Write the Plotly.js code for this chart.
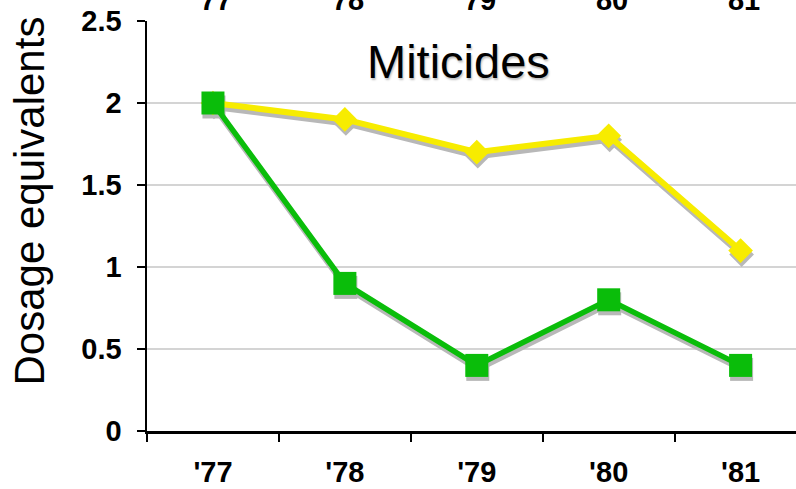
<!DOCTYPE html>
<html>
<head>
<meta charset="utf-8">
<script src="https://cdn.plot.ly/plotly-3.0.1.min.js"></script>
<style>
  html, body { margin: 0; padding: 0; background: #fff; }
  #chart { width: 796px; height: 489px; }
</style>
</head>
<body>
<div id="chart"></div>
<script>
// Season labels
const years = ["'77", "'78", "'79", "'80", "'81"];
// Dosage equivalents per season
const yellowSeries = [2.0, 1.9, 1.7, 1.8, 1.1];
const greenSeries = [2.0, 0.9, 0.4, 0.8, 0.4];
const yTicks = [0, 0.5, 1, 1.5, 2, 2.5];
const yTickText = ['0', '0.5', '1', '1.5', '2', '2.5'];

const FONT = 'Liberation Sans, Arial, sans-serif';
const YELLOW = '#F7EC00';
const GREEN = '#0ABD0A';
const SHADOW = '#b8b8b8';

// Plot geometry (px) used to nudge the shadow axes by a few pixels
const PLOT_W = 649, PLOT_H = 410;
const X_RANGE = [-0.5, 4.42];
const Y_RANGE = [0, 2.5];
const SHADOW_DX = 1, SHADOW_DY = 4;
const xPerPx = (X_RANGE[1] - X_RANGE[0]) / PLOT_W;
const yPerPx = (Y_RANGE[1] - Y_RANGE[0]) / PLOT_H;

function series(y, color, symbol, size, width, axes) {
  return {
    x: years, y: y, type: 'scatter', mode: 'lines+markers',
    xaxis: axes[0], yaxis: axes[1],
    line: { color: color, width: width },
    marker: { symbol: symbol, size: size, color: color },
    hoverinfo: 'skip'
  };
}

const traces = [
  // shadows on the hidden, slightly offset base axes
  series(yellowSeries, SHADOW, 'diamond', 19, 6, ['x', 'y']),
  series(greenSeries, SHADOW, 'square', 23, 5.5, ['x', 'y']),
  // visible series on the labelled axes
  series(yellowSeries, YELLOW, 'diamond', 19, 6, ['x2', 'y2']),
  series(greenSeries, GREEN, 'square', 23, 5.5, ['x2', 'y2'])
];

// Repeated season labels along the top edge
const topLabels = years.map(y => ({
  x: y, xref: 'x2', y: 1, yref: 'paper',
  yanchor: 'bottom', xanchor: 'center', yshift: 3,
  text: '<b>' + y + '</b>', showarrow: false,
  font: { family: FONT, size: 29, color: '#000' }
}));

const tickFont = { family: FONT, size: 29, color: '#000', weight: 'bold' };

const layout = {
  width: 796, height: 489,
  margin: { l: 147, r: 0, t: 21, b: 58 },
  paper_bgcolor: '#fff', plot_bgcolor: '#fff',
  showlegend: false,
  xaxis: {
    type: 'category', visible: false,
    range: [X_RANGE[0] - SHADOW_DX * xPerPx, X_RANGE[1] - SHADOW_DX * xPerPx]
  },
  yaxis: {
    visible: false,
    range: [Y_RANGE[0] + SHADOW_DY * yPerPx, Y_RANGE[1] + SHADOW_DY * yPerPx]
  },
  xaxis2: {
    type: 'category', range: X_RANGE, overlaying: 'x', anchor: 'y2', side: 'bottom',
    tickson: 'boundaries', ticks: 'outside', ticklen: 8, tickwidth: 2, tickcolor: '#000',
    showline: true, linecolor: '#000', linewidth: 2.5,
    showgrid: false, zeroline: false,
    ticklabelstandoff: 14, tickfont: tickFont
  },
  yaxis2: {
    range: Y_RANGE, overlaying: 'y', anchor: 'x2', side: 'left',
    tickvals: yTicks, ticktext: yTickText,
    ticks: 'outside', ticklen: 8, tickwidth: 2, tickcolor: '#000',
    showline: true, linecolor: '#000', linewidth: 2.5,
    showgrid: true, gridcolor: '#d4d4d4', gridwidth: 2, zeroline: false,
    ticklabelstandoff: 9, tickfont: tickFont
  },
  annotations: [
    {
      text: 'Dosage equivalents', textangle: -90, showarrow: false,
      xref: 'paper', yref: 'paper', x: -0.181, y: 0.561,
      xanchor: 'center', yanchor: 'middle',
      font: { family: FONT, size: 42, color: '#000' }
    },
    {
      text: 'Miticides', showarrow: false,
      xref: 'paper', yref: 'paper', x: 0.48, y: 0.90,
      xanchor: 'center', yanchor: 'middle',
      font: { family: FONT, size: 47, color: '#000', shadow: '1px 2px 2px rgba(0,0,0,0.25)' }
    }
  ].concat(topLabels)
};

Plotly.newPlot('chart', traces, layout, { staticPlot: true, displayModeBar: false });
</script>
</body>
</html>
